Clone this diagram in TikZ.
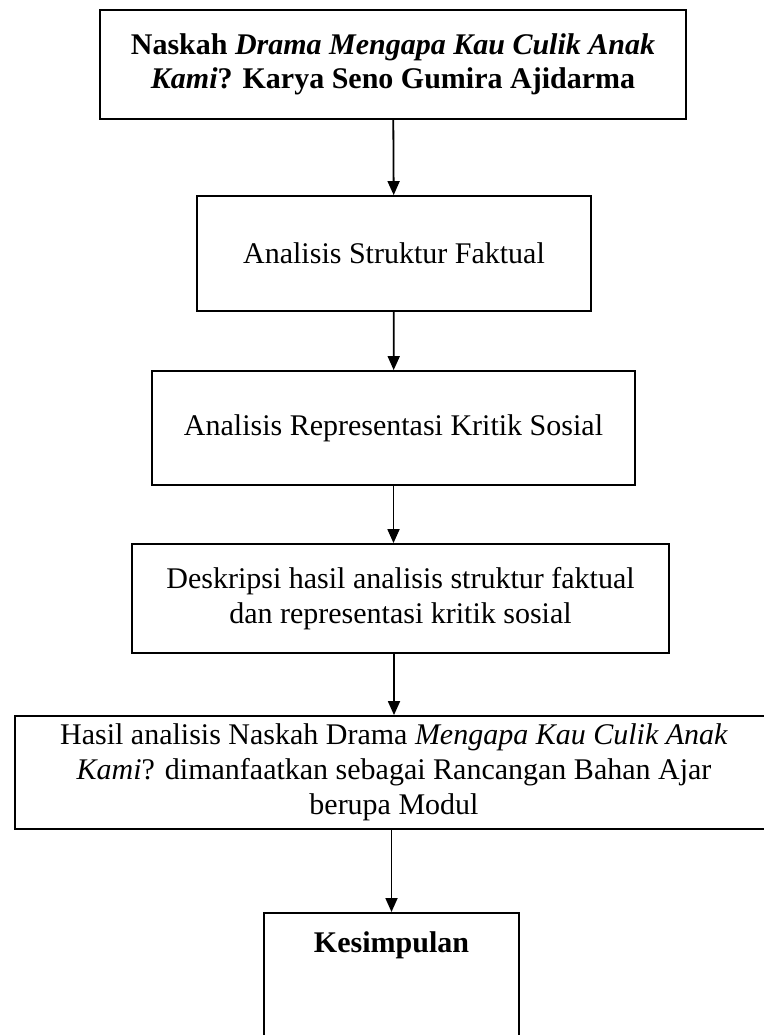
\documentclass[tikz,border=0pt]{standalone}
\usepackage{fontspec}
\setmainfont{Liberation Serif}
\usetikzlibrary{arrows.meta}

\begin{document}
\begin{tikzpicture}
[
    x=0.5pt, y=-0.5pt,
    box/.style={draw, line width=0.9pt, align=center, inner sep=0pt, font=\fontsize{15}{17.5}\selectfont},
    arr/.style={-{Triangle[length=7pt, width=6pt]}, line width=0.9pt},
]
\useasboundingbox (0,0) rectangle (764,1035);
\node [box, minimum width=293pt, minimum height=54.5pt, font=\bfseries\fontsize{15}{17}\selectfont] (naskah) at (393,64.5)
{Naskah \textit{Drama Mengapa Kau Culik Anak}\\ \textit{Kami}? Karya Seno Gumira Ajidarma};
\node [box, minimum width=197pt, minimum height=57.5pt] (faktual) at (394,253.5)
{Analisis Struktur Faktual};
\node [box, minimum width=241.5pt, minimum height=57pt] (sosial) at (393.5,428)
{Analisis Representasi Kritik Sosial};
\node [box, minimum width=268.5pt, minimum height=54.5pt] (deskripsi) at (400.5,598.5)
{Deskripsi hasil analisis struktur faktual\\ dan representasi kritik sosial};
\node [box, minimum width=379pt, minimum height=56.5pt] (hasil) at (394,772.5)
{Hasil analisis Naskah Drama \textit{Mengapa Kau Culik Anak}\\ \textit{Kami}? dimanfaatkan sebagai Rancangan Bahan Ajar\\ berupa Modul};
\node [box, anchor=north, minimum width=127.5pt, inner ysep=6pt, text height=14pt, text depth=55pt, font=\bfseries\fontsize{15}{17}\selectfont] (kesimpulan) at (391.5,912)
{Kesimpulan};
% arrows
\draw [arr] (naskah) -- (faktual);
\draw [arr] (faktual) -- (sosial);
\draw [arr] (sosial.south) -- (sosial.south |- deskripsi.north);
\draw [arr] (deskripsi.south -| hasil) -- (hasil.north);
\draw [arr] (hasil.south -| kesimpulan) -- (kesimpulan.north);
\end{tikzpicture}
\end{document}
